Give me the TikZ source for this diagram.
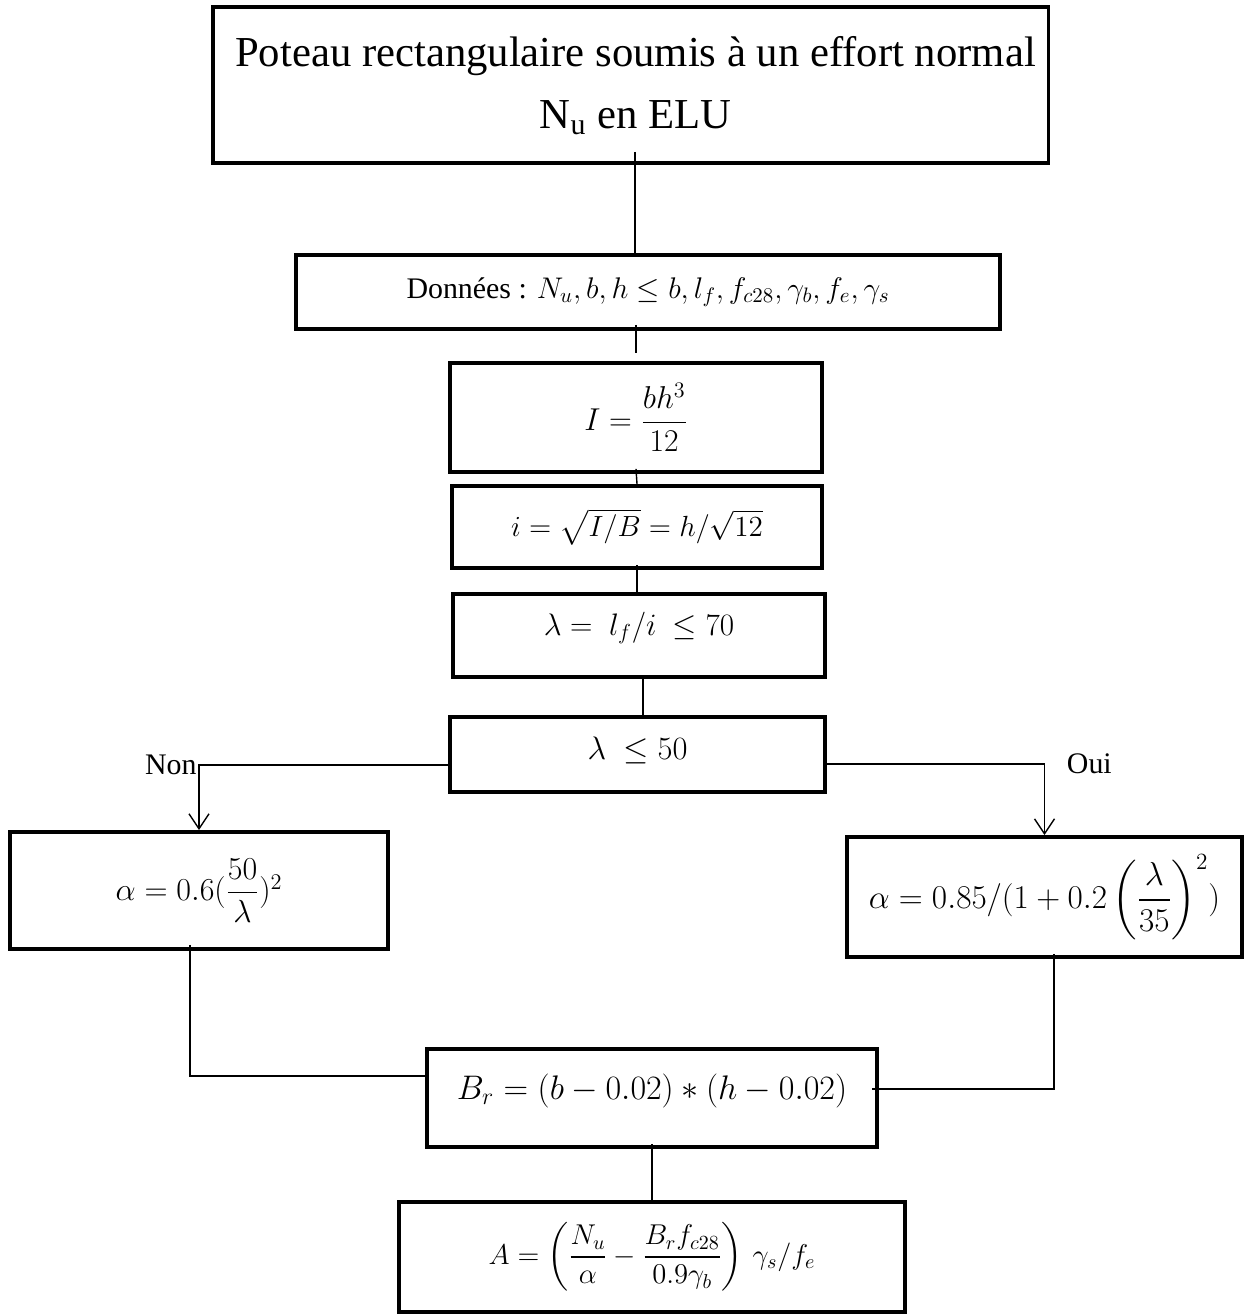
\documentclass[tikz,border=0pt]{standalone}
\usepackage{fix-cm}
\usepackage{amsmath,amssymb}
\usepackage{fontspec}
\setmainfont{Liberation Serif}
\usepackage{tikz}
\usetikzlibrary{positioning, arrows.meta, calc}
\tikzset{
  boite/.style={draw, line width=2.2pt, inner sep=0pt, align=center},
  formule/.style={font=\fontsize{#1}{#1}\selectfont},
  wire/.style={line width=0.8pt},
  fleche/.style={wire, -{Straight Barb[length=0.3cm, width=0.4cm]}},
  etiquette/.style={font=\fontsize{17}{20}\selectfont, inner sep=1pt}
}

\begin{document}
\begin{tikzpicture}[x=0.02cm, y=-0.02cm]
        \useasboundingbox (0,0) rectangle (1244,1314);
        \node[boite, minimum width=16.72cm, minimum height=3.12cm, font=\fontsize{24.3}{35.2}\selectfont] (titre) at (630.5,85)
              {\raisebox{0.28cm}{\hspace{0.2cm}\begin{tabular}{@{}c@{}}Poteau rectangulaire soumis à un effort normal\\ N\textsubscript{u} en ELU\end{tabular}}};
        \node[boite, formule=17, minimum width=14.08cm, minimum height=1.48cm] (donnees) at (648,292)
              {Données : $N_u, b, h \le b, l_f, f_{c28}, \gamma_b, f_e, \gamma_s$};
        \node[boite, formule=18, minimum width=7.44cm, minimum height=2.18cm] (inertie) at (636,417.5)
              {$I = \dfrac{bh^3}{12}$};
        \node[boite, formule=16.6, minimum width=7.4cm, minimum height=1.64cm] (rayon) at (637,527)
              {\raisebox{0.16cm}{$i = \sqrt{I/B} = h/\sqrt{12}$}};
        \node[boite, formule=17.7, minimum width=7.44cm, minimum height=1.66cm] (elanc) at (639,635.5)
              {\raisebox{0.48cm}{$\lambda =\ l_f/i\ \le 70$}};
        \node[boite, formule=18.5, minimum width=7.5cm, minimum height=1.5cm] (test) at (637.5,754.5)
              {\raisebox{0.24cm}{$\lambda\ \le 50$}};
        \node[boite, formule=18.2, minimum width=7.56cm, minimum height=2.34cm] (alphag) at (199,890.5)
              {$\alpha = 0.6(\dfrac{50}{\lambda})^2$};
        \node[boite, formule=18.9, minimum width=7.9cm, minimum height=2.4cm] (alphad) at (1044.5,897)
              {$\alpha = 0.85/(1 + 0.2\left(\dfrac{\lambda}{35}\right)^{2})$};
        \node[boite, formule=19.4, minimum width=9.0cm, minimum height=1.96cm] (br) at (652,1098)
              {\raisebox{0.44cm}{$B_r = (b - 0.02) * (h - 0.02)$}};
        \node[boite, formule=16.3, minimum width=10.12cm, minimum height=2.2cm] (acier) at (652,1257)
              {$A = \left(\dfrac{N_u}{\alpha} - \dfrac{B_r f_{c28}}{0.9\gamma_b}\right)\, \gamma_s/f_e$};
        \draw[wire] ([xshift=0.09cm, yshift=0.26cm]titre.south) -- ([xshift=0.09cm]titre.south |- donnees.north);
        \draw[wire] ([yshift=0.12cm]donnees.south -| inertie) -- ([yshift=0.16cm]inertie.north);
        \draw[wire] ([yshift=0.1cm]inertie.south) -- (rayon.north);
        \draw[wire] ([yshift=0.1cm]rayon.south) -- (rayon.south |- elanc.north);
        \draw[wire] ([xshift=0.08cm]elanc.south) -- ([xshift=0.08cm]elanc.south |- test.north);
        \draw[fleche] ([yshift=-0.21cm]test.west) -| node[pos=0.5, left, etiquette] (non) {Non} (alphag.north);
        \draw[fleche] ([yshift=-0.19cm]test.east) -| node[pos=0.5, right=0.4cm, etiquette] (oui) {Oui} (alphad.north);
        \draw[wire] ([xshift=-0.18cm, yshift=0.12cm]alphag.south) |- ([yshift=0.44cm]br.west);
        \draw[wire] ([xshift=0.19cm, yshift=0.1cm]alphad.south) |- ([xshift=-0.14cm, yshift=0.18cm]br.east);
        \draw[wire] ([yshift=0.1cm]br.south) -- (acier.north);
\end{tikzpicture}
\end{document}
